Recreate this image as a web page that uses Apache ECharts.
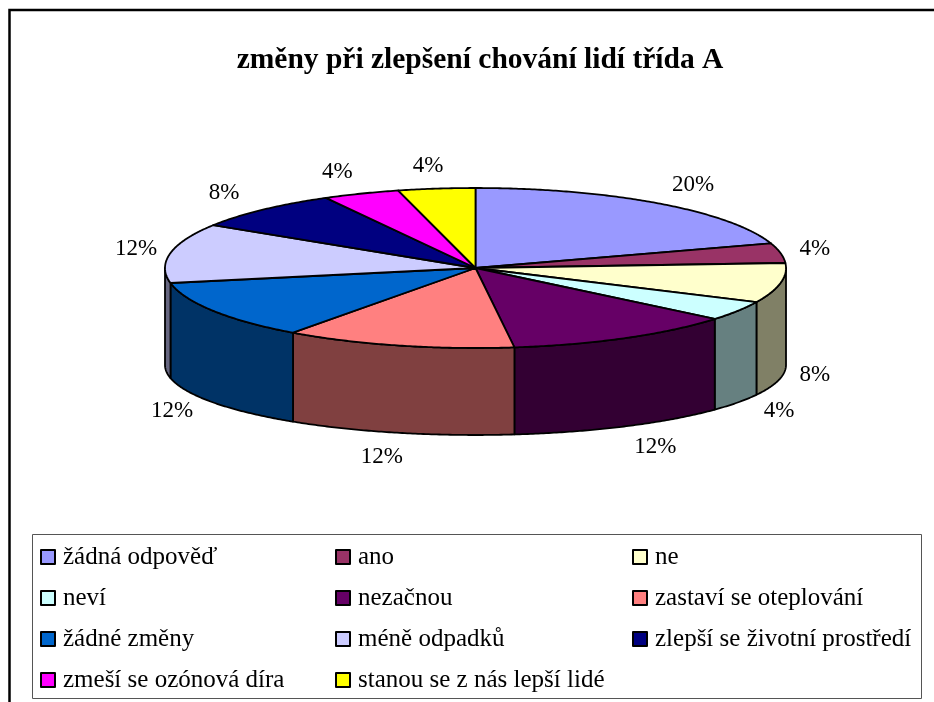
<!DOCTYPE html>
<html>
<head>
<meta charset="utf-8">
<script src="https://cdn.jsdelivr.net/npm/echarts@6/dist/echarts.min.js"></script>
<style>
html,body{margin:0;padding:0;background:#fff;}
#chart{width:934px;height:702px;}
</style>
</head>
<body>
<div id="chart"></div>
<script>
// ---- data ----
var categories = ['žádná odpověď','ano','ne','neví','nezačnou','zastaví se oteplování','žádné změny','méně odpadků','zlepší se životní prostředí','zmeší se ozónová díra','stanou se z nás lepší lidé'];
var percentValues = [20, 4, 8, 4, 12, 12, 12, 12, 8, 4, 4];
var sliceColors = ['#9999FF','#993366','#FFFFCC','#CCFFFF','#660066','#FF8080','#0066CC','#CCCCFF','#000080','#FF00FF','#FFFF00'];
var legendColumns = [
  ['žádná odpověď','neví','žádné změny','zmeší se ozónová díra'],
  ['ano','nezačnou','méně odpadků','stanou se z nás lepší lidé'],
  ['ne','zastaví se oteplování','zlepší se životní prostředí']
];
var titleText = 'změny při zlepšení chování lidí třída A';

// ---- layout ----
var FONT = "'Liberation Serif','Times New Roman',serif";
var CX = 475.5, CY = 268, RX = 310.5, RY = 80;   // top ellipse
var CYB = 365, RYB = 70;                          // bottom ellipse

var total = percentValues.reduce(function(a,b){return a+b;},0);
var starts = [], ends = [];
(function(){
  var acc = 0;
  for (var i=0;i<percentValues.length;i++){
    starts.push(acc/total*360);
    acc += percentValues[i];
    ends.push(acc/total*360);
  }
})();

function rad(d){return d*Math.PI/180;}
function topPt(a){return [CX + RX*Math.sin(rad(a)), CY - RY*Math.cos(rad(a))];}
function botPt(a){return [CX + RX*Math.sin(rad(a)), CYB - RYB*Math.cos(rad(a))];}
function darken(hex){
  var r=parseInt(hex.substr(1,2),16),g=parseInt(hex.substr(3,2),16),b=parseInt(hex.substr(5,2),16);
  function h(v){v=Math.round(v/2);return (v<16?'0':'')+v.toString(16);}
  return '#'+h(r)+h(g)+h(b);
}
function arcPts(a0,a1,fn){
  var pts=[], n=Math.max(2,Math.ceil((a1-a0)/0.5));
  for (var k=0;k<=n;k++){pts.push(fn(a0+(a1-a0)*k/n));}
  return pts;
}

var chart = echarts.init(document.getElementById('chart'), null, {renderer:'canvas'});

var legends = legendColumns.map(function(col, ci){
  return {
    data: col,
    orient: 'vertical',
    left: [40, 335, 632][ci],
    top: 544.5,
    padding: 0,
    itemGap: 16,
    itemWidth: 14,
    itemHeight: 14,
    icon: 'rect',
    selectedMode: false,
    itemStyle: {borderColor:'#000', borderWidth:2},
    textStyle: {fontFamily: FONT, fontSize: 25, color:'#000', lineHeight:25, padding:[0,0,0,3]}
  };
});

var option = {
  animation: false,
  backgroundColor: '#fff',
  color: sliceColors,
  title: {
    text: titleText,
    left: 475,
    textAlign: 'center',
    top: 40,
    textStyle: {fontFamily: FONT, fontSize: 29.5, fontWeight:'bold', color:'#000'}
  },
  legend: legends,
  graphic: [
    {type:'rect', shape:{x:9.5, y:10, width:960, height:720}, style:{fill:'none', stroke:'#000', lineWidth:2.5}, silent:true},
    {type:'rect', shape:{x:32.5, y:534.5, width:889, height:164}, style:{fill:'none', stroke:'#555', lineWidth:1}, silent:true}
  ],
  series: [
    {
      // hidden pie only used to feed the legend with item names/colours
      type: 'pie',
      name: 'legend',
      radius: [0, 0],
      center: [-100, -100],
      silent: true,
      label: {show:false},
      labelLine: {show:false},
      data: categories.map(function(n,i){return {name:n, value:percentValues[i], itemStyle:{color:sliceColors[i]}};})
    },
    {
      type: 'custom',
      name: '3d pie',
      coordinateSystem: 'none',
      silent: true,
      data: percentValues.map(function(v,i){return {name:categories[i], value:v};}),
      renderItem: function(params, api){
        var i = params.dataIndex;
        var a0 = starts[i], a1 = ends[i];
        var col = sliceColors[i];
        var children = [];
        var w0 = Math.max(a0, 90), w1 = Math.min(a1, 270);
        if (w1 > w0){
          var tp = arcPts(w0, w1, topPt);
          var bp = arcPts(w0, w1, botPt).reverse();
          children.push({type:'polygon', shape:{points: tp.concat(bp)},
            style:{fill: darken(col), stroke:'#000', lineWidth:1.8, lineJoin:'round'}});
        }
        var pts = [[CX,CY]].concat(arcPts(a0, a1, topPt));
        children.push({type:'polygon', shape:{points: pts},
          style:{fill: col, stroke:'#000', lineWidth:1.8, lineJoin:'round'}});
        // label
        var mid = (a0+a1)/2;
        var s = Math.sin(rad(mid)), c = Math.cos(rad(mid));
        var front = (mid > 90 && mid < 270);
        var rxl = 338 + 40*Math.abs(c);
        var lx = CX + rxl*s;
        var ly = front ? CYB - 95*c - (1-Math.abs(c))*10 : CY - 103*c;
        var pct = Math.round(api.value(0)/total*100) + '%';
        children.push({type:'text', x: lx, y: ly,
          style:{text: pct, fill:'#000', font: '23px ' + FONT, textAlign:'center', textVerticalAlign:'middle'}});
        return {type:'group', children: children};
      }
    }
  ]
};
chart.setOption(option);
</script>
</body>
</html>
